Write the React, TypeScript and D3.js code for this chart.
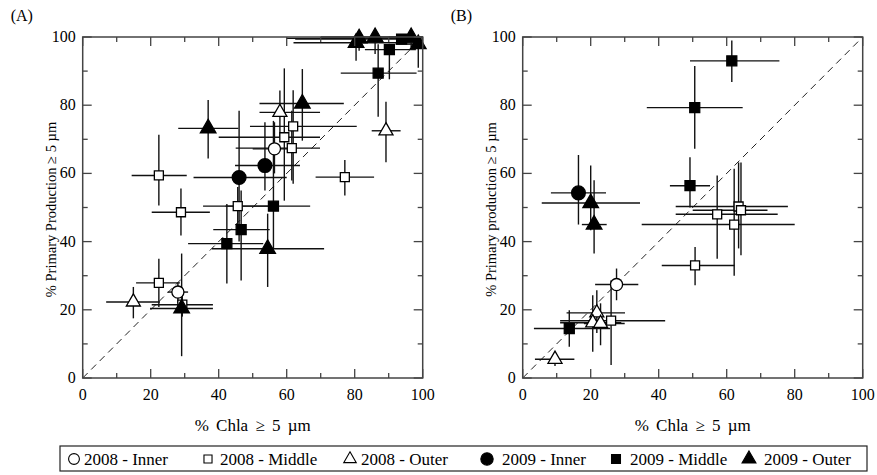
import { useEffect, useRef } from "react";
import * as d3 from "d3";

// each point: [x, y, xLow, xHigh, yLow, yHigh]
type Pt = number[];

// panel A
const a2008Inner: Pt[] = [
    [56.4, 67.2, 50, 63, 60, 75],
    [28, 25.2, 25, 31, 22, 28],
];
const a2008Middle: Pt[] = [
    [22.4, 59.4, 14.4, 30.6, 50.6, 71.3],
    [22.4, 27.9, 15.7, 28.6, 20.8, 35],
    [28.9, 48.6, 20.3, 37.4, 41.8, 55.6],
    [29.3, 21.5, 20.3, 38.3, 18, 25],
    [45.6, 50.4, 35.4, 55, 45, 56],
    [59.3, 70.6, 40, 69.8, 52, 90.8],
    [61.9, 73.8, 49.2, 80.6, 57, 84.4],
    [61.5, 67.4, 45, 69.8, 57.9, 78.4],
    [77.1, 58.9, 68.5, 85.7, 53.5, 63.9],
];
const a2008Outer: Pt[] = [
    [14.9, 22.3, 6.9, 22.7, 17.5, 26.7],
    [58, 77.9, 52, 69.8, 70.6, 84.3],
    [89.2, 72.5, 85, 93.5, 63.3, 81],
];
const a2009Inner: Pt[] = [
    [53.6, 62.3, 44.8, 63.9, 55, 75],
    [46, 58.8, 32.6, 60, 40, 78.4],
];
const a2009Middle: Pt[] = [
    [42.4, 39.4, 31, 53.1, 27.7, 51],
    [46.6, 43.5, 38.4, 55, 28.6, 55],
    [56.1, 50.4, 42, 66.9, 38, 75.4],
    [86.9, 89.4, 75.9, 98.2, 76.6, 97.9],
    [90.2, 96.3, 83, 98, 87.6, 98],
    [93.8, 99.4, 62.5, 100, 98, 100],
];
const a2009Outer: Pt[] = [
    [36.9, 73.2, 28.1, 45.8, 64.4, 81.5],
    [64.6, 80.5, 52, 76.8, 69.6, 90.6],
    [54.4, 37.9, 38, 71, 26.7, 48.2],
    [29.1, 20.4, 19.8, 38.3, 6.4, 36.5],
    [80.4, 98.3, 62, 100, 93, 100],
    [81.3, 99.6, 60, 99, 96, 100],
    [86, 100, 70, 100, 95, 100],
    [96.6, 100, 90, 100, 97, 100],
    [98.7, 97.9, 92, 100, 91, 100],
];

// panel B
const b2008Inner: Pt[] = [[27.6, 27.4, 21.3, 34, 22.8, 32.1]];
const b2008Middle: Pt[] = [
    [50.7, 33, 40.9, 62.3, 27.2, 38.4],
    [26, 16.8, 11, 41.9, 3.8, 28.7],
    [57.2, 48, 45, 75, 35, 59.4],
    [62.2, 45, 35, 80, 30, 61.4],
    [63.5, 50.3, 45, 78, 38, 63.2],
    [64.2, 49.2, 50, 72, 36, 63.2],
];
const b2008Outer: Pt[] = [
    [9.5, 5.5, 3.6, 15.2, 3.5, 7.5],
    [21.8, 19.1, 12.9, 30.1, 13.2, 25.7],
    [20.6, 16.2, 11, 29, 7.7, 24.3],
    [22.9, 16, 18, 30, 9.6, 21.9],
];
const b2009Inner: Pt[] = [[16.4, 54.3, 8.3, 24.5, 45, 65.4]];
const b2009Middle: Pt[] = [
    [61.5, 93, 49.2, 75.5, 86.8, 99],
    [50.6, 79.3, 36.5, 64.7, 67.2, 91.5],
    [49.2, 56.4, 43.3, 55.1, 50, 64.7],
    [13.7, 14.5, 3.3, 25.7, 9.2, 19.9],
];
const b2009Outer: Pt[] = [
    [20, 51.3, 5.6, 34.5, 43.3, 62.3],
    [21, 45, 17.4, 24.7, 36.5, 58],
];

const legendLabels = ["2008 - Inner", "2008 - Middle", "2008 - Outer", "2009 - Inner", "2009 - Middle", "2009 - Outer"];
const shapes = ["circle", "square", "triangle", "circle", "square", "triangle"];
const filled = [false, false, false, true, true, true];

const ticks = [0, 20, 40, 60, 80, 100];
const minorTicks = [10, 30, 50, 70, 90];

const FONT = "'Liberation Serif', 'Times New Roman', serif";

function symbolPath(shape: string, isFilled: boolean, scale = 1) {
    const type = shape === "circle" ? d3.symbolCircle : shape === "square" ? d3.symbolSquare : d3.symbolTriangle;
    let size;
    if (shape === "circle") size = isFilled ? 150 : 115;
    else if (shape === "square") size = isFilled ? 100 : 81;
    else size = isFilled ? 105 : 85;
    return d3.symbol().type(type).size(size * scale)();
}

function drawPanel(svg: any, left: number, series: Pt[][], label: string, yLabel: string) {
    const top = 37, bottom = 378, width = 340;
    const x = d3.scaleLinear().domain([0, 100]).range([left, left + width]);
    const y = d3.scaleLinear().domain([0, 100]).range([bottom, top]);
    const g = svg.append("g");

    // 1:1 line
    g.append("line")
        .attr("x1", x(0)).attr("y1", y(0))
        .attr("x2", x(100)).attr("y2", y(100))
        .attr("stroke", "#222")
        .attr("stroke-width", 1)
        .attr("stroke-dasharray", "7,5");

    // error bars first, then markers
    series.forEach((pts) => {
        pts.forEach((p) => {
            g.append("line")
                .attr("x1", x(p[2])).attr("x2", x(p[3]))
                .attr("y1", y(p[1])).attr("y2", y(p[1]))
                .attr("stroke", "#111").attr("stroke-width", 1.4);
            g.append("line")
                .attr("x1", x(p[0])).attr("x2", x(p[0]))
                .attr("y1", y(p[4])).attr("y2", y(p[5]))
                .attr("stroke", "#111").attr("stroke-width", 1.4);
        });
    });
    series.forEach((pts, i) => {
        g.selectAll(null)
            .data(pts)
            .join("path")
            .attr("d", symbolPath(shapes[i], filled[i]))
            .attr("transform", (p: Pt) => `translate(${x(p[0])},${y(p[1])})`)
            .attr("fill", filled[i] ? "#000" : "#fff")
            .attr("stroke", "#000")
            .attr("stroke-width", 1.3);
    });

    // frame
    g.append("rect")
        .attr("x", x(0)).attr("y", y(100))
        .attr("width", width).attr("height", bottom - top)
        .attr("fill", "none")
        .attr("stroke", "#444")
        .attr("stroke-width", 1.5);

    // inward ticks on all sides
    const tickLines = [...ticks.map((t) => [t, 9]), ...minorTicks.map((t) => [t, 5])];
    tickLines.forEach(([t, len]) => {
        g.append("line").attr("x1", x(t)).attr("x2", x(t)).attr("y1", bottom).attr("y2", bottom - len).attr("stroke", "#444").attr("stroke-width", 1.3);
        g.append("line").attr("x1", x(t)).attr("x2", x(t)).attr("y1", top).attr("y2", top + len).attr("stroke", "#444").attr("stroke-width", 1.3);
        g.append("line").attr("y1", y(t)).attr("y2", y(t)).attr("x1", left).attr("x2", left + len).attr("stroke", "#444").attr("stroke-width", 1.3);
        g.append("line").attr("y1", y(t)).attr("y2", y(t)).attr("x1", left + width).attr("x2", left + width - len).attr("stroke", "#444").attr("stroke-width", 1.3);
    });

    // tick labels
    g.selectAll(null).data(ticks).join("text")
        .attr("x", (t: number) => x(t)).attr("y", bottom + 22)
        .attr("text-anchor", "middle")
        .attr("font-size", 16)
        .text((t: number) => t);
    g.selectAll(null).data(ticks).join("text")
        .attr("x", left - 7).attr("y", (t: number) => y(t) + 5)
        .attr("text-anchor", "end")
        .attr("font-size", 16)
        .text((t: number) => t);

    // axis labels
    g.append("text")
        .attr("x", x(50)).attr("y", bottom + 53)
        .attr("text-anchor", "middle")
        .attr("font-size", 17)
        .attr("word-spacing", 3)
        .text("% Chla \u2265 5 \u00b5m");
    g.append("text")
        .attr("transform", `translate(${left - 27},${y(50) + 2}) rotate(-90)`)
        .attr("text-anchor", "middle")
        .attr("font-size", 14.5)
        .text(yLabel);

    g.append("text")
        .attr("x", left - 72).attr("y", 21)
        .attr("font-size", 16)
        .text(label);
}

export default function App() {
    const svgRef = useRef<SVGSVGElement>(null);

    useEffect(() => {
        const svg = d3.select(svgRef.current);
        svg.selectAll("*").remove();
        svg.append("rect").attr("width", 877).attr("height", 475).attr("fill", "#fff");

        drawPanel(svg, 82.7, [a2008Inner, a2008Middle, a2008Outer, a2009Inner, a2009Middle, a2009Outer], "(A)", "% Primary Production \u2265 5 \u00b5m");
        drawPanel(svg, 522.7, [b2008Inner, b2008Middle, b2008Outer, b2009Inner, b2009Middle, b2009Outer], "(B)", "% Primary production \u2265 5 \u00b5m");

        // legend
        const lg = svg.append("g");
        lg.append("rect")
            .attr("x", 60).attr("y", 446)
            .attr("width", 807).attr("height", 25)
            .attr("fill", "#fff").attr("stroke", "#222").attr("stroke-width", 1.2);
        const symX = [74, 208, 350, 487, 616, 749];
        const textX = [84, 220, 361, 502, 630, 764];
        legendLabels.forEach((name, i) => {
            lg.append("path")
                .attr("d", symbolPath(shapes[i], filled[i], 0.8))
                .attr("transform", `translate(${symX[i]},${459})`)
                .attr("fill", filled[i] ? "#000" : "#fff")
                .attr("stroke", "#000")
                .attr("stroke-width", 1.1);
            lg.append("text")
                .attr("x", textX[i]).attr("y", 465)
                .attr("font-size", 17)
                .text(name);
        });

        svg.selectAll("text").attr("font-family", FONT).attr("fill", "#000");
    }, []);

    return (
        <svg
            ref={svgRef}
            width={877}
            height={475}
            style={{ position: "absolute", left: 0, top: 0 }}
        ></svg>
    );
}
